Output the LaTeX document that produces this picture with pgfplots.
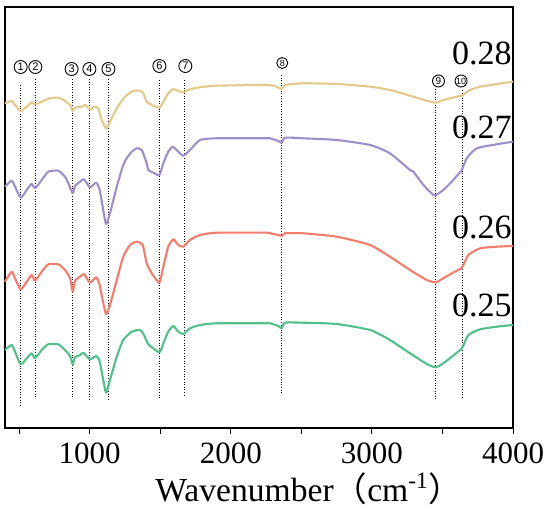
\documentclass[border=0pt]{standalone}
\usepackage{pgfplots}
\pgfplotsset{compat=1.18}
\usepackage{fontspec}
\setmainfont{Liberation Serif}
\newfontfamily\cjk{Noto Sans CJK SC}
\newfontfamily\lsans{Liberation Sans}
\definecolor{cyel}{HTML}{E3C98A}
\definecolor{cpur}{HTML}{9E8FCB}
\definecolor{cred}{HTML}{F47C6C}
\definecolor{cgrn}{HTML}{52C08A}
\begin{document}
\begin{tikzpicture}
\useasboundingbox (-2.5pt,-42.5pt) rectangle (272.5pt,214pt);
\begin{axis}[
  at={(0,0)}, anchor=south west,
  scale only axis, width=254pt, height=210.5pt,
  xmin=400, xmax=4000, ymin=0, ymax=421,
  axis line style={line width=0.6pt},
  xtick={1000,2000,3000,4000},
  minor xtick={500,1500,2500,3500},
  ytick=\empty,
  xtick pos=bottom, tick align=outside,
  major tick length=3pt, minor tick length=3pt,
  tick style={black, line width=0.5pt},
  /pgf/number format/assume math mode=true,
  /pgf/number format/set thousands separator={},
  xticklabel style={font=\fontsize{15.5}{16}\selectfont, yshift=-1pt},
  xlabel={Wavenumber{\cjk （}cm\textsuperscript{-1}{\cjk ）}},
  xlabel style={font=\fontsize{16.8}{17}\selectfont, yshift=2.5pt, xshift=25pt},
  every axis plot/.append style={line width=1.05pt, line join=round},
  clip=false,
]
% dotted marker lines
\addplot[black, line width=0.5pt, dash pattern=on 0.5pt off 0.8pt] coordinates {(511,343)(511,23)};
\addplot[black, line width=0.5pt, dash pattern=on 0.5pt off 0.8pt] coordinates {(613,349)(613,30)};
\addplot[black, line width=0.5pt, dash pattern=on 0.5pt off 0.8pt] coordinates {(880,349)(880,30)};
\addplot[black, line width=0.5pt, dash pattern=on 0.5pt off 0.8pt] coordinates {(1002,349)(1002,29)};
\addplot[black, line width=0.5pt, dash pattern=on 0.5pt off 0.8pt] coordinates {(1132,349)(1132,28)};
\addplot[black, line width=0.5pt, dash pattern=on 0.5pt off 0.8pt] coordinates {(1494,348)(1494,29)};
\addplot[black, line width=0.5pt, dash pattern=on 0.5pt off 0.8pt] coordinates {(1671,348)(1671,32)};
\addplot[black, line width=0.5pt, dash pattern=on 0.5pt off 0.8pt] coordinates {(2356,353)(2356,35)};
\addplot[black, line width=0.5pt, dash pattern=on 0.5pt off 0.8pt] coordinates {(3452,339)(3452,28)};
\addplot[black, line width=0.5pt, dash pattern=on 0.5pt off 0.8pt] coordinates {(3641,338)(3641,31)};
% yellow (0.28)
\addplot[cyel, smooth, tension=0.35] coordinates {
(400,324.7)(447,327)(471,323)(511,317)(554,321.3)(589,325.7)(613,323.7)(660,326.3)(719,329.7)(778,330.3)(825,327)(861,323)(880,317)(896,320.3)(944,321.3)(967,323)(1002,319)(1038,321.3)(1061,319.7)(1085,308)(1116,299.7)(1144,306.3)(1192,319.7)(1250,331.3)(1309,337)(1357,337.3)(1380,334.7)(1404,326.3)(1440,323)(1494,320.3)(1522,326.3)(1557,334.7)(1593,339)(1628,337)(1664,335.7)(1699,338)(1759,340.3)(1900,342.3)(2255,343)(2326,341.3)(2361,338.7)(2384,343)(2514,344.7)(2751,344)(2987,341.3)(3128,338)(3270,332.3)(3389,327.3)(3452,325.3)(3506,328)(3601,331.3)(3644,333)(3696,338)(3767,341.3)(3885,344)(4000,346.3)};
% purple (0.27)
\addplot[cpur, smooth, tension=0.35] coordinates {
(400,241.3)(447,247.3)(471,241.3)(511,230.3)(554,238)(589,244)(613,239.7)(660,248)(707,256.3)(778,257.3)(825,251.3)(849,244.7)(880,234.7)(896,242)(932,246.3)(960,248.7)(1002,240.7)(1045,245.3)(1068,239.7)(1092,221.3)(1116,204)(1144,214.7)(1192,241.3)(1238,263)(1262,269.7)(1298,276.3)(1333,279.7)(1369,278)(1404,264.7)(1416,258)(1451,255.3)(1494,253)(1522,264.7)(1557,276.3)(1588,281.3)(1628,276.3)(1664,272.3)(1711,278)(1782,288)(1900,289.7)(2255,289.7)(2278,289.7)(2337,287)(2361,285.3)(2384,290.3)(2514,289.7)(2751,288)(2987,283)(3128,274.7)(3270,258)(3294,256.3)(3365,243)(3436,233)(3455,233)(3506,238)(3566,246.3)(3601,252)(3637,258)(3672,269.7)(3743,279.7)(3885,283.7)(4000,286.3)};
% red (0.26)
\addplot[cred, smooth, tension=0.35] coordinates {
(400,146.3)(447,156.3)(471,149.7)(511,138.7)(554,146.3)(589,153)(613,147.3)(660,156.3)(707,163.7)(778,163.7)(825,158)(861,149.7)(880,136.3)(896,147)(932,151.3)(960,154)(1002,145.3)(1045,150.7)(1068,144.7)(1092,128)(1116,114)(1144,123)(1192,148)(1238,171.3)(1286,183)(1333,186.3)(1376,183)(1404,164.7)(1440,154.7)(1494,145.3)(1522,161.3)(1557,181.3)(1593,188.7)(1628,183)(1664,181.3)(1711,188)(1782,193)(1900,195.3)(2255,195.3)(2278,194.7)(2337,193)(2361,192)(2384,194.7)(2514,194.7)(2751,191.3)(2987,183)(3128,171.3)(3270,158)(3389,148)(3452,145.7)(3506,149.7)(3566,154.7)(3637,160.3)(3684,173)(3767,179.7)(3885,181.3)(4000,182)};
% green (0.25)
\addplot[cgrn, smooth, tension=0.35] coordinates {
(400,78)(447,83)(471,76.3)(511,63.7)(554,69.7)(589,74.7)(613,69.7)(660,78)(707,83.7)(778,83.7)(825,78)(861,72)(880,63.7)(896,70.7)(932,73)(955,75.3)(1002,68.7)(1045,72)(1068,68)(1092,51.3)(1116,35.3)(1144,48)(1192,71.3)(1238,88)(1298,96.3)(1357,98)(1385,93)(1416,83.7)(1494,75.7)(1522,84.7)(1557,96.3)(1593,102)(1628,96.3)(1664,94)(1711,99.7)(1782,103)(1900,104.7)(2255,104.7)(2278,104.7)(2337,102)(2361,99.7)(2384,105.3)(2514,105.3)(2751,104)(2987,98)(3128,88)(3270,74.7)(3389,64)(3452,60.7)(3506,64.7)(3566,71.3)(3637,79.7)(3684,93)(3767,98.7)(3885,101.3)(4000,103)};
% circled labels
\tikzset{cl/.style={circle, draw, line width=0.45pt, inner sep=0pt, minimum size=6.5pt, font=\lsans\fontsize{5.5}{5.5}\selectfont}}
\node[cl] at (axis cs:511,361) {1};
\node[cl] at (axis cs:615,361) {2};
\node[cl] at (axis cs:872,359) {3};
\node[cl] at (axis cs:998,359) {4};
\node[cl] at (axis cs:1133,359) {5};
\node[cl] at (axis cs:1494,362) {6};
\node[cl] at (axis cs:1678,362) {7};
\node[cl, minimum size=5.5pt, font=\lsans\fontsize{4.5}{4.5}\selectfont] at (axis cs:2365,365) {8};
\node[cl, minimum size=6pt, font=\lsans\fontsize{5}{5}\selectfont] at (axis cs:3472,347) {9};
\node[cl, minimum size=6pt, font=\lsans\fontsize{4.5}{4.5}\selectfont] at (axis cs:3632,347) {10};
% sample labels
\tikzset{sl/.style={anchor=east, inner sep=0pt, xshift=-0.5pt, font=\fontsize{17}{17}\selectfont}}
\node[sl] at (axis cs:4000,375) {0.28};
\node[sl] at (axis cs:4000,301) {0.27};
\node[sl] at (axis cs:4000,201) {0.26};
\node[sl] at (axis cs:4000,123) {0.25};
\end{axis}
\end{tikzpicture}
\end{document}
